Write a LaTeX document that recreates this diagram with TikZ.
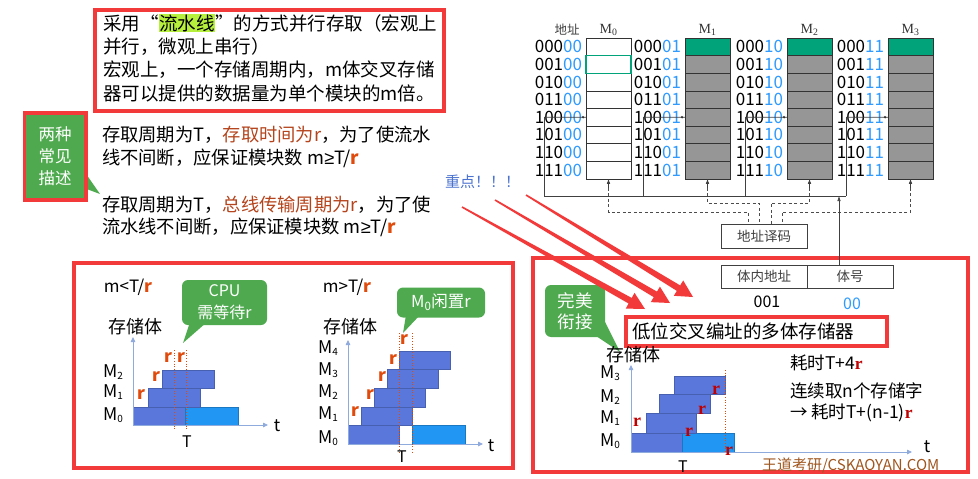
\documentclass[tikz,border=0pt]{standalone}
\usepackage{fontspec}
\setmainfont{Noto Sans CJK SC}
\newfontfamily\serifrm{Liberation Serif}
\newfontfamily\symf{Liberation Sans}
\usetikzlibrary{calc,arrows.meta}
\definecolor{boxred}{HTML}{F23A3A}
\definecolor{callgreen}{HTML}{4FAA4F}
\definecolor{digblue}{HTML}{2F9BFF}
\definecolor{barblue}{HTML}{5A78DC}
\definecolor{barlight}{HTML}{2196F3}
\definecolor{axisblue}{HTML}{8FAADC}
\definecolor{rred}{HTML}{E04A0A}
\definecolor{brownt}{HTML}{B5441C}
\definecolor{tealc}{HTML}{00A37A}
\definecolor{cellgray}{HTML}{969696}
\definecolor{hlgreen}{HTML}{B6F03C}
\definecolor{notered}{HTML}{C00000}
\definecolor{keyblue}{HTML}{4A72D0}
\definecolor{wmbrown}{HTML}{A0561E}
\newcommand\HLt[1]{{\setlength{\fboxsep}{0.6pt}\colorbox{hlgreen}{#1}}}
\newcommand\Rr{\textcolor{rred}{\bfseries r}}
\newcommand\Rs{\textcolor{notered}{\serifrm\bfseries r}}
\newcommand\Geq{{\symf ≥}}
\newcommand\Msb[1]{M\raisebox{-0.12em}{\fontsize{10}{10}\selectfont #1}}
\newcommand\RedArrow[3]{%
  \coordinate (#1s) at #2; \coordinate (#1e) at #3;
  \coordinate (#1b) at ($(#1e)!17pt!(#1s)$);
  \fill[boxred] ($(#1s)!0.8pt!90:(#1e)$) -- ($(#1b)!3.2pt!90:(#1e)$) -- ($(#1b)!9pt!90:(#1e)$) -- (#1e) -- ($(#1b)!9pt!-90:(#1e)$) -- ($(#1b)!3.2pt!-90:(#1e)$) -- ($(#1s)!0.8pt!-90:(#1e)$) -- cycle;}
\begin{document}
\begin{tikzpicture}[x=1pt,y=-1pt,
  every node/.style={inner sep=0pt, outer sep=0pt},
  redbox/.style={draw=boxred, line width=3.5pt},
  callout/.style={fill=callgreen, text=white, align=center, rounded corners=6pt},
  txta/.style={anchor=west, font=\fontsize{18.5}{18.5}\selectfont},
  txtb/.style={anchor=west, font=\fontsize{18.3}{18.3}\selectfont},
  txtc/.style={anchor=west, font=\fontsize{17.5}{17.5}\selectfont},
  bar/.style={fill=barblue, draw=barblue!80!black, line width=0.4pt},
  barL/.style={fill=barlight, draw=barlight!80!black, line width=0.4pt},
  axis/.style={draw=axisblue, line width=0.8pt, -{Triangle[length=5pt,width=4.5pt]}},
  rdot/.style={draw=rred, dotted, line width=0.7pt},
  rlab/.style={font=\fontsize{17}{17}\selectfont},
  mlab/.style={font=\fontsize{17.5}{17.5}\selectfont},
  cellw/.style={draw=black!80, line width=0.6pt, fill=white, minimum width=45pt, minimum height=17.6pt, anchor=north west},
  cellg/.style={cellw, fill=cellgray},
  addr/.style={anchor=east, font=\fontsize{17}{17}\selectfont},
  wire/.style={draw=black!75, line width=0.6pt},
  dwire/.style={draw=black!70, line width=0.7pt, dash pattern=on 3pt off 2.5pt},
  tbox/.style={draw=black!75, line width=0.6pt, text=black!75, font=\fontsize{13.5}{13.5}\selectfont, minimum width=86pt},
  hdr/.style={font=\serifrm\fontsize{14}{14}\selectfont, text=black!80}
]
\useasboundingbox (0,0) rectangle (978,479);
\fill[white] (0,0) rectangle (978,479);

% ---------- top-left text box ----------
\draw[redbox] (95,10) rectangle (444,111);
\node[txta] (tl1) at (103,23) {采用“\HLt{流水线}”的方式并行存取（宏观上};
\node[txta] (tl2) at (103,47) {并行，微观上串行）};
\node[txta] (tl3) at (103,70) {宏观上，一个存储周期内，m体交叉存储};
\node[txta] (tl4) at (103,93) {器可以提供的数据量为单个模块的m倍。};

% ---------- two descriptions ----------
\fill[callgreen] (84,171) -- (100,194) -- (84,188) -- cycle;
\node[callout, rounded corners=2pt, minimum width=60pt, minimum height=86pt, font=\fontsize{16.5}{22}\selectfont] (cl1) at (55,156.5) {两种\\常见\\描述};
\draw[boxred, line width=3.3pt] (24.5,113) rectangle (86,200);
\node[txtb] (d1) at (102,135) {存取周期为T，\textcolor{brownt}{存取时间为r}，为了使流水};
\node[txtb] (d2) at (102,158) {线不间断，应保证模块数 m\Geq T/\Rr};
\node[txtb] (d3) at (102,205) {存取周期为T，\textcolor{brownt}{总线传输周期为r}，为了使};
\node[txtb] (d4) at (102,227) {流水线不间断，应保证模块数 m\Geq T/\Rr};
\node[anchor=west, text=keyblue, font=\fontsize{15}{15}\selectfont] (key) at (445,182) {重点！！！};

% ---------- memory banks ----------
\node[font=\fontsize{12.5}{12.5}\selectfont, text=black!75] (hdaddr) at (567,30) {地址};
\foreach \col/\bx/\dig in {0/586/00,1/685/01,2/787/10,3/888/11} {
  \foreach \row/\pre in {0/000,1/001,2/010,3/011,4/100,5/101,6/110,7/111} {
    \ifnum\col=0
      \node[cellw] (c\col\row) at (\bx,{38+17.6*\row}) {};
    \else
      \node[cellg] (c\col\row) at (\bx,{38+17.6*\row}) {};
    \fi
    \node[addr] (a\col\row) at ({\bx-4},{38+17.6*\row+8.8}) {\pre\textcolor{digblue}{\dig}};
  }
  \node[hdr] (h\col) at ({\bx+22.5},30) {M\textsubscript{\col}};
  % data bus taps
  \draw[wire] ({\bx-42},117.2) -- ({\bx-42},196);
  \draw[wire] ({\bx-42},117.2) -- (c\col4.west);
  \fill[black!80] ($(c\col4.west)+(-3,0)$) circle (1.3pt);
  \draw[wire, {Latex[length=5pt,width=3.5pt]}-] (c\col7.south) -- ++(0,9);
}
\foreach \col in {1,2,3} { \node[cellw, fill=tealc] (t\col) at (c\col0.north west) {}; }
\node[cellw, draw=tealc, line width=1.2pt, fill=none] (g01) at (c01.north west) {};
\draw[wire] (544,196) -- (846,196);

% address decoder
\node[tbox, minimum height=24pt] (dec) at (764,236) {地址译码};
\draw[dwire] ($(c07.south)+(0,9)$) |- ($(dec.north)+(-16,-12)$) -- ($(dec.north)+(-16,0)$);
\draw[dwire] ($(c17.south)+(0,9)$) |- ($(dec.north)+(-5,-21)$) -- ($(dec.north)+(-5,0)$);
\draw[dwire] ($(c27.south)+(0,9)$) |- ($(dec.north)+(7,-21)$) -- ($(dec.north)+(7,0)$);
\draw[dwire] ($(c37.south)+(0,9)$) |- ($(dec.north)+(18,-12)$) -- ($(dec.north)+(18,0)$);

% address register
\node[tbox, minimum height=23pt] (bin) at (764,276.5) {体内地址};
\node[tbox, minimum height=23pt] (bnum) at (850,276.5) {体号};
\node[font=\fontsize{16}{16}\selectfont] (v001) at (767,302) {001};
\node[font=\fontsize{16}{16}\selectfont, text=digblue] (v00) at (852,304) {00};

% ---------- bottom-left panel ----------
\draw[redbox] (74,263) rectangle (513,468);
% left chart
\node[font=\fontsize{17}{17}\selectfont] (lc) at (128,287) {m<T/\Rr};
\fill[callgreen] (190,322) -- (183,343) -- (207,322) -- cycle;
\node[callout, minimum width=85pt, minimum height=45pt, font=\fontsize{16}{22}\selectfont] (cpu) at (224.5,302.5) {CPU\\需等待r};
\node[font=\fontsize{18}{18}\selectfont] (s1) at (135,327) {存储体};
\draw[bar] (133,407) rectangle (185,425);
\draw[barL] (185,407) rectangle (238,425);
\draw[bar] (148,388) rectangle (200,407);
\draw[bar] (162,370) rectangle (214,388);
\coordinate (o1) at (133,425);
\draw[axis] (o1) -- (133,337);
\draw[axis] (o1) -- (268,425);
\draw[rdot] (174,350) -- (174,430);
\draw[rdot] (186,350) -- (186,430);
\node[mlab] (l2) at (113,372) {\Msb{2}};
\node[mlab] (l1) at (113,392) {\Msb{1}};
\node[mlab] (l0) at (113,415) {\Msb{0}};
\node[rlab] (lr1) at (141,395) {\Rr};
\node[rlab] (lr2) at (156,377) {\Rr};
\node[rlab] (lr3) at (168,358) {\Rr};
\node[rlab] (lr4) at (181,358) {\Rr};
\node[font=\fontsize{16}{16}\selectfont] (lT) at (187,442) {T};
\node[font=\fontsize{17}{17}\selectfont] (lt) at (277,426) {t};

% middle chart
\node[font=\fontsize{17}{17}\selectfont] (mc) at (347,287) {m>T/\Rr};
\fill[callgreen] (406,315) -- (403,333) -- (420,315) -- cycle;
\node[callout, minimum width=88pt, minimum height=30pt, font=\fontsize{16.5}{16.5}\selectfont] (idle) at (441,302.5) {M\textsubscript{0}闲置r};
\node[font=\fontsize{18}{18}\selectfont] (s2) at (350,327) {存储体};
\draw[bar] (348,425) rectangle (399,444);
\draw[barL] (412,425) rectangle (465,444);
\draw[bar] (361,407) rectangle (412,425);
\draw[bar] (374,388) rectangle (425,407);
\draw[bar] (387,369) rectangle (438,388);
\draw[bar] (399,351) rectangle (450,369);
\coordinate (o2) at (348,444);
\draw[axis] (o2) -- (348,340);
\draw[axis] (o2) -- (483,444);
\draw[rdot] (399,333) -- (399,452);
\draw[rdot] (412,333) -- (412,452);
\node[mlab] (m4) at (328,348) {\Msb{4}};
\node[mlab] (m3) at (328,370) {\Msb{3}};
\node[mlab] (m2) at (328,392) {\Msb{2}};
\node[mlab] (m1) at (328,414) {\Msb{1}};
\node[mlab] (m0) at (328,438) {\Msb{0}};
\node[rlab] (mr1) at (355,412) {\Rr};
\node[rlab] (mr2) at (370,395) {\Rr};
\node[rlab] (mr3) at (382,377) {\Rr};
\node[rlab] (mr4) at (393,360) {\Rr};
\node[rlab] (mr5) at (404,340) {\Rr};
\node[font=\fontsize{16}{16}\selectfont] (mT) at (402,457) {T};
\node[font=\fontsize{17}{17}\selectfont] (mt) at (491,446) {t};

% ---------- right panel ----------
\draw[redbox] (533,258) rectangle (968,472);
\draw[wire, -{Latex[length=5pt,width=3.5pt]}] ($(bnum.north)+(-11,0)$) -- (839,196);
\fill[callgreen] (593,334) -- (620,352) -- (605,322) -- cycle;
\node[callout, minimum width=60pt, minimum height=52pt, font=\fontsize{17.5}{21}\selectfont] (perf) at (575,311) {完美\\衔接};
\draw[boxred, line width=3.2pt] (626,317) rectangle (887,346);
\node[anchor=west, font=\fontsize{18.5}{18.5}\selectfont] (title) at (632,331.5) {低位交叉编址的多体存储器};
\node[font=\fontsize{18}{18}\selectfont] (s3) at (633,355) {存储体};
\draw[bar] (631,433) rectangle (682,452);
\draw[barL] (682,433) rectangle (734,452);
\draw[bar] (646,413) rectangle (696,433);
\draw[bar] (659,394) rectangle (710,413);
\draw[bar] (674,376) rectangle (725,394);
\coordinate (o3) at (631,452);
\draw[axis] (o3) -- (631,365);
\draw[axis] (o3) -- (912,452);
\draw[rdot] (725,370) -- (725,452);
\node[mlab] (n3) at (610,373) {\Msb{3}};
\node[mlab] (n2) at (610,397) {\Msb{2}};
\node[mlab] (n1) at (610,418) {\Msb{1}};
\node[mlab] (n0) at (610,441) {\Msb{0}};
\node[font=\fontsize{18}{18}\selectfont] (nr1) at (637,422) {\Rs};
\node[font=\fontsize{18}{18}\selectfont] (nr2) at (689,432) {\Rs};
\node[font=\fontsize{18}{18}\selectfont] (nr3) at (702,410) {\Rs};
\node[font=\fontsize{18}{18}\selectfont] (nr4) at (716,390) {\Rs};
\node[font=\fontsize{18}{18}\selectfont] (nr5) at (729,451) {\Rs};
\node[font=\fontsize{16}{16}\selectfont] (nT) at (683,467) {T};
\node[font=\fontsize{17}{17}\selectfont] (nt) at (927,447) {t};
\node[txtc] (e1) at (790,363) {耗时T+4\Rs};
\node[txtc] (e2) at (790,391) {连续取n个存储字};
\node[txtc] (e3) at (790,413) {→ 耗时T+(n-1)\Rs};
\node[anchor=west, text=wmbrown, font=\fontsize{15}{15}\selectfont] (wm) at (762,466) {王道考研/CSKAOYAN.COM};

% ---------- emphasis arrows ----------
\RedArrow{ra}{(462,207)}{(645,309)}
\RedArrow{rb}{(495,200)}{(670,303)}
\RedArrow{rc}{(526,195)}{(693,297)}
\end{tikzpicture}
\end{document}
